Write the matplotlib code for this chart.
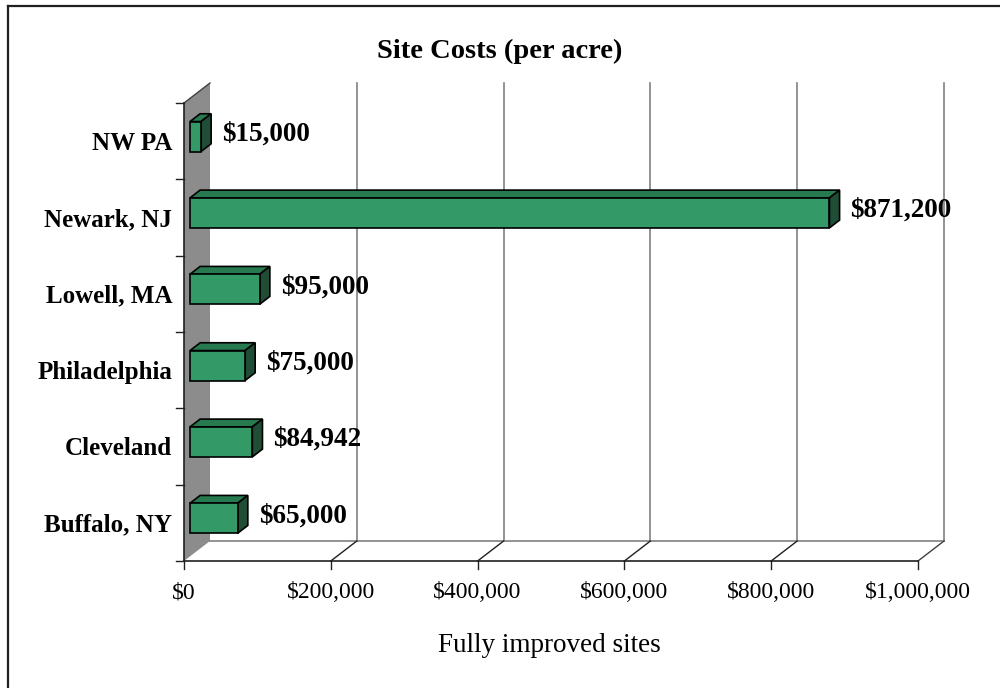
import matplotlib
matplotlib.use("Agg")
import matplotlib.pyplot as plt
from matplotlib.patches import Polygon, Rectangle
from matplotlib.lines import Line2D

categories = ["Buffalo, NY", "Cleveland", "Philadelphia", "Lowell, MA", "Newark, NJ", "NW PA"]
values = [65000, 84942, 75000, 95000, 871200, 15000]
value_labels = ["$65,000", "$84,942", "$75,000", "$95,000", "$871,200", "$15,000"]
xticks = [0, 200000, 400000, 600000, 800000, 1000000]
xtick_labels = ["$0", "$200,000", "$400,000", "$600,000", "$800,000", "$1,000,000"]
title = "Site Costs (per acre)"
xlabel = "Fully improved sites"

W, H = 1000, 688
fig = plt.figure(figsize=(W / 100, H / 100), dpi=100)
fig.patch.set_facecolor("white")

# front plane in pixels
L, R, T, B = 184, 918, 103, 561
ax = fig.add_axes([L / W, (H - B) / H, (R - L) / W, (B - T) / H])
XMAX = 1000000
n = len(categories)
ax.set_xlim(0, XMAX)
ax.set_ylim(0, n)
ax.axis("off")

ux = XMAX / (R - L)          # data units per pixel in x
uy = n / (B - T)             # data units per pixel in y
DX, DY = 26 * ux, 20 * uy    # depth offset (back plane)

serif = "Liberation Serif"
grid_c = "#808080"

# left wall (gray)
ax.add_patch(Polygon([(0, 0), (DX, DY), (DX, n + DY), (0, n)], closed=True,
                     facecolor="#8c8c8c", edgecolor="none", clip_on=False, zorder=1))
# back gridlines
for t in xticks[1:]:
    ax.add_line(Line2D([t + DX, t + DX], [DY, n + DY], color=grid_c, lw=1.2,
                       clip_on=False, zorder=1))
# floor
ax.add_line(Line2D([DX, XMAX + DX], [DY, DY], color=grid_c, lw=1.2, clip_on=False, zorder=1))
for t in xticks[1:]:
    ax.add_line(Line2D([t, t + DX], [0, DY], color="#404040" if t == XMAX else "#202020",
                       lw=1.0, clip_on=False, zorder=1))
ax.add_line(Line2D([0, XMAX], [0, 0], color="#202020", lw=1.2, clip_on=False, zorder=2))
ax.add_line(Line2D([0, 0], [0, n], color="#202020", lw=1.2, clip_on=False, zorder=2))
ax.add_line(Line2D([0, DX], [n, n + DY], color="#404040", lw=1.0, clip_on=False, zorder=2))

# x ticks and labels
for t, lab in zip(xticks, xtick_labels):
    ax.add_line(Line2D([t, t], [0, -8 * uy], color="#202020", lw=1.0, clip_on=False))
    ax.text(t, -32 * uy, lab, ha="center", va="center", fontsize=17,
            family=serif, color="black")
# y ticks
for i in range(n + 1):
    ax.add_line(Line2D([-8 * ux, 0], [i, i], color="#202020", lw=1.0, clip_on=False))
for i, c in enumerate(categories):
    ax.text(-12 * ux, i + 0.5 - 2 * uy, c, ha="right", va="center", fontsize=18,
            family=serif, weight="bold", color="black")

# bars
f0, f1 = 0.23, 0.62
bh = 30 * uy
front_c, top_c, side_c = "#339966", "#277a4f", "#1f4d36"
for i, v in enumerate(values):
    ox, oy = f0 * DX, f0 * DY
    bx, by = (f1 - f0) * DX, (f1 - f0) * DY
    yc = i + 0.5 + oy
    y0, y1 = yc - bh / 2, yc + bh / 2
    x0, x1 = ox, ox + v
    ax.add_patch(Polygon([(x0, y1), (x1, y1), (x1 + bx, y1 + by), (x0 + bx, y1 + by)],
                         closed=True, facecolor=top_c, edgecolor="black", lw=1.2,
                         clip_on=False, zorder=5))
    ax.add_patch(Polygon([(x1, y0), (x1 + bx, y0 + by), (x1 + bx, y1 + by), (x1, y1)],
                         closed=True, facecolor=side_c, edgecolor="black", lw=1.2,
                         clip_on=False, zorder=5))
    ax.add_patch(Rectangle((x0, y0), v, bh, facecolor=front_c, edgecolor="black",
                           lw=1.2, clip_on=False, zorder=6))
    ax.text(x1 + 21 * ux, yc + 2.5 * uy, value_labels[i], ha="left", va="center",
            fontsize=19.5, family=serif, weight="bold", color="black", zorder=7)

fig.text(500 / W, 1 - 51 / H, title, ha="center", va="center", fontsize=20.5,
         family=serif, weight="bold")
fig.text(549 / W, 1 - 646 / H, xlabel, ha="center", va="center", fontsize=19.5,
         family=serif)

# outer border (only top and left visible)
fig.add_artist(Line2D([7.5 / W, 7.5 / W], [0, 1 - 5.5 / H], color="#202020", lw=1.6,
                      transform=fig.transFigure))
fig.add_artist(Line2D([7.5 / W, 1], [1 - 5.5 / H, 1 - 5.5 / H], color="#202020", lw=1.6,
                      transform=fig.transFigure))

fig.savefig("out.png", dpi=100)
